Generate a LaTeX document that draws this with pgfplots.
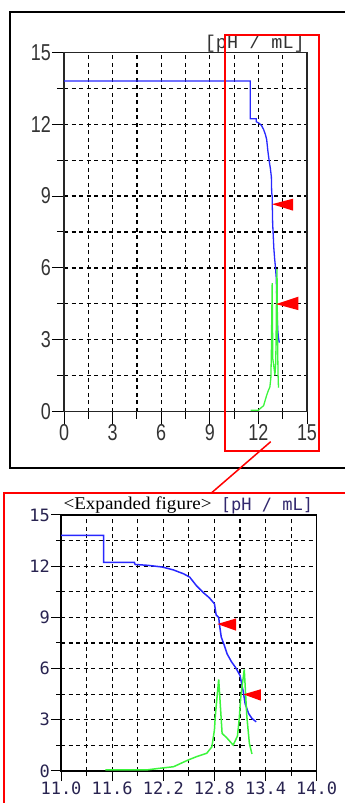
\documentclass[border=0pt]{standalone}
\usepackage{pgfplots}
\pgfplotsset{compat=1.18}
\usepackage{pgfplotstable}
\usepackage{fontspec}
\setmainfont{Liberation Serif}
\newfontfamily\topnum[FakeStretch=0.78]{Liberation Sans}
\newfontfamily\topmono{Liberation Mono}
\newfontfamily\botmono{DejaVu Sans Mono}
\newfontfamily\capfont[FakeStretch=1.06]{Liberation Serif}
\definecolor{pblue}{RGB}{40,40,255}
\definecolor{pgreen}{RGB}{60,245,60}
\definecolor{lblc}{RGB}{40,35,80}
\definecolor{unitc}{RGB}{50,40,110}

\pgfplotstableread{
x y
0 13.8
11.50 13.8
11.50 12.23
11.86 12.23
11.87 12.10
12.02 12.05
12.19 11.95
12.32 11.78
12.44 11.55
12.51 11.36
12.59 10.85
12.67 10.45
12.74 10.15
12.80 9.80
12.82 9.15
12.85 9.00
12.86 8.55
12.88 7.85
12.92 7.30
12.95 6.85
13.00 6.40
13.05 6.05
13.10 5.60
13.12 5.10
13.14 4.60
13.16 3.95
13.20 3.38
13.24 3.08
13.29 2.88
}\bluedata

\pgfplotstableread{
x y
11.52 0.06
12.00 0.06
12.16 0.16
12.32 0.25
12.49 0.64
12.59 0.84
12.71 1.04
12.77 1.42
12.80 2.40
12.81 3.20
12.83 4.30
12.85 5.37
12.87 3.80
12.89 2.20
12.94 1.97
13.02 1.52
13.07 2.05
13.09 3.00
13.11 4.40
13.15 5.95
13.18 3.20
13.21 1.62
13.24 1.00
}\greendata

\begin{document}
\begin{tikzpicture}
\useasboundingbox (0pt,0pt) rectangle (345pt,803pt);

% ---------- top (full) panel ----------
\begin{axis}[
  scale only axis, width=243pt, height=359.4pt,
  at={(64pt,391.3pt)}, anchor=south west,
  xmin=0, xmax=15, ymin=0, ymax=15,
  xtick={0,3,6,9,12,15}, ytick={0,3,6,9,12,15},
  xticklabels={0,3,6,9,12,15}, yticklabels={0,3,6,9,12,15},
  minor xtick={1.5,4.5,7.5,10.5,13.5}, minor ytick={1.5,4.5,7.5,10.5,13.5},
  grid=both,
  major grid style={black, line width=1.2pt, dash pattern=on 4pt off 3.5pt},
  minor grid style={black, line width=1.2pt, dash pattern=on 4pt off 3.5pt},
  tick pos=left, tick align=outside,
  major tick length=12pt, minor tick length=7pt,
  every tick/.style={black, line width=1pt},
  axis line style={black!85, line width=1.3pt},
  ticklabel style={font=\topnum\fontsize{23}{23}\selectfont, text=black!80},
  yticklabel style={inner sep=1pt},
  xticklabel style={inner sep=1pt},
]
\addplot[pblue, line width=1.3pt] table[x=x,y=y] {\bluedata};
\addplot[pgreen, line width=1.3pt] table[x=x,y=y] {\greendata};
\addplot[fill=red, draw=none] coordinates {(12.84,8.66) (14.14,8.89) (14.14,8.39)};
\addplot[fill=red, draw=none] coordinates {(13.09,4.49) (14.46,4.80) (14.46,4.24)};
\end{axis}

% ---------- bottom (expanded) panel ----------
\begin{axis}[
  scale only axis, width=255.7pt, height=256pt,
  at={(61pt,32pt)}, anchor=south west,
  xmin=11, xmax=14, ymin=0, ymax=15,
  xtick={11,11.6,12.2,12.8,13.4,14}, ytick={0,3,6,9,12,15},
  xticklabels={11.0,11.6,12.2,12.8,13.4,14.0}, yticklabels={0,3,6,9,12,15},
  minor xtick={11.3,11.9,12.5,13.1,13.7}, minor ytick={1.5,4.5,7.5,10.5,13.5},
  grid=both,
  major grid style={black, line width=1.2pt, dash pattern=on 4pt off 3.5pt},
  minor grid style={black, line width=1.2pt, dash pattern=on 4pt off 3.5pt},
  tick pos=left, tick align=outside,
  major tick length=10pt, minor tick length=5pt,
  every tick/.style={black, line width=1pt},
  axis line style={black, line width=1.3pt},
  ticklabel style={font=\botmono\fontsize{17}{17}\selectfont, text=lblc},
  yticklabel style={inner sep=1pt},
  xticklabel style={inner sep=1pt},
]
\addplot[pblue, line width=1.5pt] table[x=x,y=y] {\bluedata};
\addplot[pgreen, line width=1.5pt] table[x=x,y=y] {\greendata};
\addplot[fill=red, draw=none] coordinates {(12.835,8.61) (13.054,8.94) (13.054,8.22)};
\addplot[fill=red, draw=none] coordinates {(13.14,4.49) (13.344,4.79) (13.344,4.12)};
\end{axis}

% labels
\node[anchor=base east, inner sep=0pt, text=black!80] at (305pt,754pt)
  {\topmono\fontsize{18.5}{18.5}\selectfont [pH / mL]};
\node[anchor=base west, inner sep=0pt] at (63.3pt,293pt)
  {\capfont\fontsize{18}{18}\selectfont <Expanded figure>};
\node[anchor=base east, inner sep=0pt, text=unitc] at (313.3pt,292pt)
  {\botmono\fontsize{17}{17}\selectfont [pH / mL]};

% frames
\draw[black, line width=2pt] (9.5pt,791pt) rectangle (352pt,335pt);
\draw[red, line width=1.8pt] (225pt,768.3pt) rectangle (319.3pt,352.3pt);
\draw[red, line width=1.5pt] (270.7pt,361.3pt) -- (211.7pt,310.3pt);
\draw[red, line width=1.8pt] (4pt,310.3pt) rectangle (352pt,-10pt);
\end{tikzpicture}
\end{document}
